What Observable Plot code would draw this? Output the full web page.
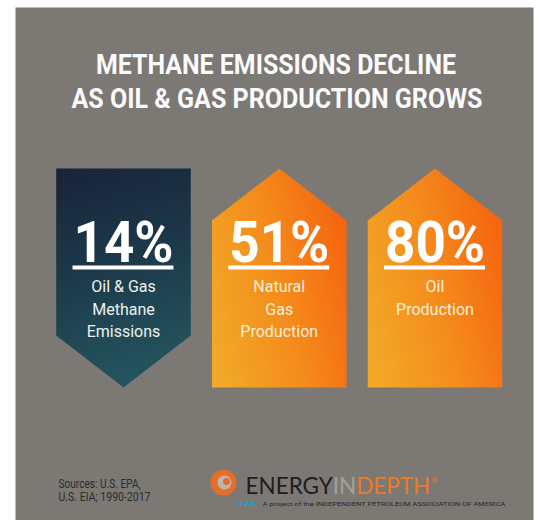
<!DOCTYPE html>
<html><head><meta charset="utf-8">
<script src="https://cdn.jsdelivr.net/npm/d3@7"></script>
<script src="https://cdn.jsdelivr.net/npm/@observablehq/plot@0.6"></script>
<style>body{margin:0;background:#fff;} #chart svg{display:block;}</style>
</head><body><div id="chart"></div>
<script>
// ---- data ----
const titleLines = ["METHANE EMISSIONS DECLINE", "AS OIL & GAS PRODUCTION GROWS"];
const categories = ["Oil & Gas Methane Emissions", "Natural Gas Production", "Oil Production"];
const labelLines = ["Oil & Gas\nMethane\nEmissions", "Natural\nGas\nProduction", "Oil\nProduction"];
const values = [14, 51, 80];
const directions = ["down", "up", "up"];
const sourceLines = ["Sources: U.S. EPA,", "U.S. EIA; 1990-2017"];
const brand = ["ENERGY", "IN", "DEPTH", "®"];
const brandColors = ["#1f1e1d", "#a3a09c", "#ee7a26", "#ee7a26"];
const brandTagline = "A project of the INDEPENDENT PETROLEUM ASSOCIATION OF AMERICA";

// ---- shape geometry (in scale units: 0 = shape bottom, 1 = shape top; x = category index) ----
const HALF = 0.432, SHOULDER_UP = 0.763, SHOULDER_DOWN = 0.237;
const VALUE_Y = 0.575, RULE_Y = 0.548, RULE_HALF = 0.324, LABEL_Y = 0.507;
const items = categories.map((c, i) => ({cat: c, i, value: values[i], dir: directions[i], label: labelLines[i]}));
const template = {
  up: [[-HALF, 0], [-HALF, SHOULDER_UP], [0, 1], [HALF, SHOULDER_UP], [HALF, 0]],
  down: [[-HALF, 1], [HALF, 1], [HALF, SHOULDER_DOWN], [0, 0], [-HALF, SHOULDER_DOWN]]
};
const vertices = items.flatMap(d => template[d.dir].map(([dx, y]) => ({cat: d.cat, dir: d.dir, x: d.i + dx, y})));

const FONT = "Roboto, 'Noto Sans', sans-serif";
function line(text, o) {
  return Plot.text([text], {text: d => d, lineAnchor: "bottom", fontFamily: FONT, ...o});
}

const chart = Plot.plot({
  width: 539, height: 520,
  marginLeft: 15, marginRight: 6, marginTop: 7, marginBottom: 0,
  style: {background: "#fff"},
  x: {type: "linear", domain: [-0.6934, 2.6324], axis: null},
  y: {type: "linear", domain: [-0.6073, 1.7352], axis: null},
  marks: [
    Plot.frame({fill: "#7c7874", stroke: "none"}),
    Plot.line(vertices.filter(d => d.dir === "down"), {x: "x", y: "y", z: "cat", fill: "url(#gDark)", stroke: "none"}),
    Plot.line(vertices.filter(d => d.dir === "up"), {x: "x", y: "y", z: "cat", fill: "url(#gOrange)", stroke: "none"}),
    Plot.text(items, {x: "i", y: () => VALUE_Y, text: d => d.value + "%", lineAnchor: "bottom",
      fontSize: 58, fontWeight: 700, fill: "#ffffff", fontFamily: FONT, className: "val"}),
    Plot.ruleY(items, {y: () => RULE_Y, x1: d => d.i - RULE_HALF, x2: d => d.i + RULE_HALF, stroke: "#ffffff", strokeWidth: 4}),
    Plot.text(items, {x: "i", y: () => LABEL_Y, text: "label", lineAnchor: "top", lineHeight: 1.4,
      fontSize: 16, fill: d => d.dir === "down" ? "#eef0ee" : "#fcefd8", fontFamily: FONT}),
    line(titleLines[0], {frameAnchor: "top", dx: 1.5, dy: 66, fontSize: 27, fontWeight: 700, fill: "#fafafa", className: "t1"}),
    line(titleLines[1], {frameAnchor: "top", dx: 2.5, dy: 100, fontSize: 27, fontWeight: 700, fill: "#fafafa", className: "t2"}),
    line(sourceLines[0], {frameAnchor: "bottom-left", textAnchor: "start", dx: 43, dy: -33, fontSize: 12, fill: "#2e2c2a", className: "s1"}),
    line(sourceLines[1], {frameAnchor: "bottom-left", textAnchor: "start", dx: 43, dy: -20, fontSize: 12, fill: "#2e2c2a", className: "s2"}),
    Plot.dot([0], {frameAnchor: "bottom-left", dx: 208, dy: -38, r: 13, fill: "#e56d2a", stroke: "none"}),
    Plot.dot([0], {frameAnchor: "bottom-left", dx: 209, dy: -38, r: 7, fill: "#b9b5b0", stroke: "none"}),
    Plot.dot([0], {frameAnchor: "bottom-left", dx: 211, dy: -39, r: 3.5, fill: "#e56d2a", stroke: "none"}),
    line(brand.join(""), {frameAnchor: "bottom-left", textAnchor: "start", dx: 230, dy: -27, fontSize: 22.5, fontFamily: "Lato, sans-serif", fill: "#1f1e1d", className: "brand"}),
    line("IPAA", {frameAnchor: "bottom-left", textAnchor: "start", dx: 222, dy: -15, fontSize: 7, fontWeight: 700, fill: "#1f9ed4", className: "ip"}),
    line(brandTagline, {frameAnchor: "bottom-left", textAnchor: "start", dx: 247, dy: -15, fontSize: 5.5, fill: "#2a2928", className: "tag"})
  ]
});

const svg = d3.select(chart);
const defs = svg.insert("defs", ":first-child");
const gd = defs.append("linearGradient").attr("id", "gDark").attr("x1", 0).attr("y1", 0).attr("x2", 0.2).attr("y2", 1);
gd.append("stop").attr("offset", 0).attr("stop-color", "#18233a");
gd.append("stop").attr("offset", 0.5).attr("stop-color", "#1c394a");
gd.append("stop").attr("offset", 1).attr("stop-color", "#23535d");
const go = defs.append("linearGradient").attr("id", "gOrange").attr("x1", 0).attr("y1", 0.75).attr("x2", 1).attr("y2", 0.35);
go.append("stop").attr("offset", 0).attr("stop-color", "#f1a826");
go.append("stop").attr("offset", 0.5).attr("stop-color", "#f48c1c");
go.append("stop").attr("offset", 1).attr("stop-color", "#f56610");

// multi-colour brand word as tspans of one text element (natural widths, no overlap)
const bt = svg.select(".brand text");
bt.text(null);
brand.forEach((part, k) => {
  const ts = bt.append("tspan").attr("fill", brandColors[k]).text(part);
  if (part === "®") ts.attr("font-size", 8).attr("dy", -11).attr("dx", 1);
});

function fit(cls, len) {
  svg.selectAll("." + cls + " text").attr("textLength", len).attr("lengthAdjust", "spacingAndGlyphs");
}
fit("t1", 360); fit("t2", 411); fit("val", 100);
fit("s1", 82); fit("s2", 92);
fit("ip", 18); fit("tag", 243);

document.getElementById("chart").appendChild(chart);
</script>
</body></html>
